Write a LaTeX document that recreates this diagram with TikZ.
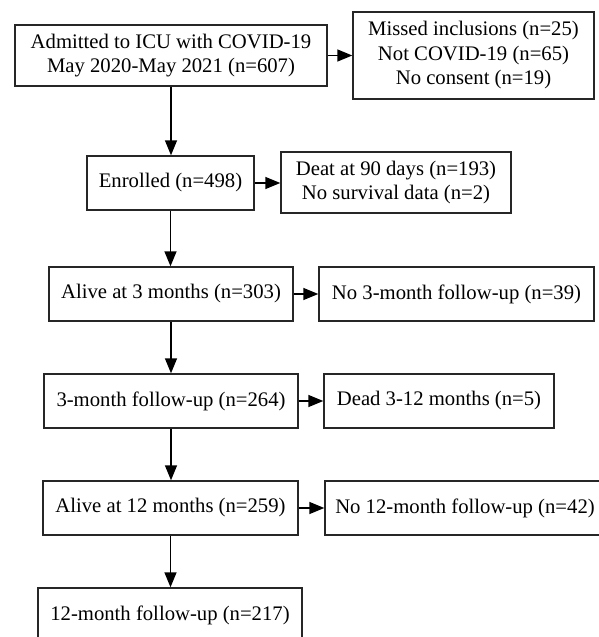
\documentclass[tikz,border=0pt]{standalone}
\usepackage{fontspec}
\setmainfont{Liberation Serif}
\usetikzlibrary{arrows.meta}
\begin{document}
\begin{tikzpicture}[x=1pt,y=-1pt,
  box/.style={draw=black!85, line width=1.4pt, inner sep=0pt, align=center,
    font=\fontsize{20.7}{24.5}\selectfont},
  arr/.style={draw=black, line width=1.4pt, -{Triangle[length=15pt,width=12pt]}}]
\useasboundingbox (0,0) rectangle (599,637);
\clip (0,0) rectangle (599,637);
\node[box, minimum width=312pt, minimum height=61pt] (adm) at (171,55.5)
  {Admitted to ICU with COVID-19\\May 2020-May 2021 (n=607)};
\node[box, minimum width=241pt, minimum height=87pt] (excl) at (473.5,55.5)
  {Missed inclusions (n=25)\\Not COVID-19 (n=65)\\No consent (n=19)};
\node[box, minimum width=167pt, minimum height=54pt] (enr) at (170.5,183)
  {Enrolled (n=498)};
\node[box, minimum width=230pt, minimum height=61pt] (deat) at (396,182.5)
  {Deat at 90 days (n=193)\\No survival data (n=2)};
\node[box, minimum width=244pt, minimum height=54pt] (alive3) at (171,294)
  {Alive at 3 months (n=303)};
\node[box, minimum width=275pt, minimum height=54pt] (no3) at (456.5,294)
  {No 3-month follow-up (n=39)};
\node[box, minimum width=254pt, minimum height=54pt] (fu3) at (171,401)
  {3-month follow-up (n=264)};
\node[box, minimum width=230pt, minimum height=54pt] (dead) at (439,401)
  {Dead 3-12 months (n=5)};
\node[box, minimum width=255pt, minimum height=54pt] (alive12) at (170.5,508)
  {Alive at 12 months (n=259)};
\node[box, minimum width=280pt, minimum height=54pt] (no12) at (465,508)
  {No 12-month follow-up (n=42)};
\node[box, minimum width=264pt, minimum height=54pt] (fu12) at (170,615)
  {12-month follow-up (n=217)};

\draw[arr] (adm.south) -- (adm.south |- enr.north);
\draw[arr] (enr.south) -- (enr.south |- alive3.north);
\draw[arr] (alive3.south) -- (alive3.south |- fu3.north);
\draw[arr] (fu3.south) -- (fu3.south |- alive12.north);
\draw[arr] (alive12.south) -- (alive12.south |- fu12.north);

\draw[arr] (adm.east) -- (adm.east -| excl.west);
\draw[arr] (enr.east) -- (enr.east -| deat.west);
\draw[arr] (alive3.east) -- (alive3.east -| no3.west);
\draw[arr] (fu3.east) -- (fu3.east -| dead.west);
\draw[arr] (alive12.east) -- (alive12.east -| no12.west);
\end{tikzpicture}
\end{document}
